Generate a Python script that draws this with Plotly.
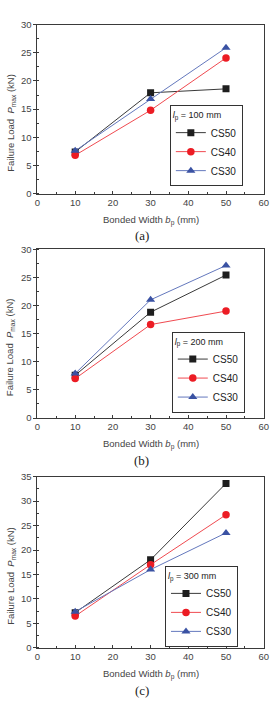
import plotly.graph_objects as go

# ---------------- data ----------------
bonded_width = [10, 30, 50]
series_names = ["CS50", "CS40", "CS30"]

a_cs50 = [7.4, 17.9, 18.6]
a_cs40 = [6.8, 14.8, 24.1]
a_cs30 = [7.6, 16.8, 25.9]

b_cs50 = [7.6, 18.8, 25.4]
b_cs40 = [7.0, 16.6, 19.0]
b_cs30 = [7.9, 21.0, 27.1]

c_cs50 = [7.2, 18.0, 33.6]
c_cs40 = [6.5, 17.0, 27.2]
c_cs30 = [7.4, 16.0, 23.5]

panel_labels = ["(a)", "(b)", "(c)"]
lp_values = ["100", "200", "300"]
y_max = [30, 30, 35]
x_ticks = [0, 10, 20, 30, 40, 50, 60]

panels = [
    [a_cs50, a_cs40, a_cs30],
    [b_cs50, b_cs40, b_cs30],
    [c_cs50, c_cs40, c_cs30],
]

# ---------------- styling ----------------
W, H = 276, 710
colors = ["#1e1e1e", "#ec1c24", "#3a52a3"]
line_colors = ["#3a3a3a", "#f04a50", "#6478bd"]
symbols = ["square", "circle", "triangle-up"]
msizes = [7, 7.5, 8]
FONT = "Liberation Sans, Arial, sans-serif"
AX = "#3a3a3a"

# pixel geometry of each panel: (top, bottom)
plot_px = [(19, 190.5), (247, 418.5), (478, 652)]
x_px = (35.5, 268.5)
legend_px = [(247, 101), (249, 331), (242, 569)]  # (right, top)


def px_x(p):
    return p / W


def px_y(p):
    return 1 - p / H


fig = go.Figure()
layout = dict(
    width=W, height=H, autosize=False,
    margin=dict(l=0, r=0, t=0, b=0),
    paper_bgcolor="white", plot_bgcolor="white",
    font=dict(family=FONT, size=9, color="#333"),
    annotations=[],
)

for i, series in enumerate(panels):
    n = i + 1
    xa = "x" if n == 1 else f"x{n}"
    ya = "y" if n == 1 else f"y{n}"
    leg = "legend" if n == 1 else f"legend{n}"
    for j, vals in enumerate(series):
        fig.add_trace(go.Scatter(
            x=bonded_width, y=vals, name=series_names[j],
            mode="lines+markers", xaxis=xa, yaxis=ya, legend=leg,
            line=dict(color=line_colors[j], width=1),
            marker=dict(symbol=symbols[j], size=msizes[j], color=colors[j],
                        line=dict(width=0)),
        ))
    top, bot = plot_px[i]
    ydom = [px_y(bot), px_y(top)]
    xdom = [px_x(x_px[0]), px_x(x_px[1])]
    xkey = "xaxis" if n == 1 else f"xaxis{n}"
    ykey = "yaxis" if n == 1 else f"yaxis{n}"
    layout[xkey] = dict(
        domain=xdom, anchor=ya, range=[0, 60], tickvals=x_ticks,
        ticks="inside", ticklen=3, tickwidth=1, tickcolor=AX,
        minor=dict(ticks="inside", ticklen=2, dtick=5, tick0=0, tickcolor=AX),
        showline=True, linecolor=AX, linewidth=1, mirror=True,
        showgrid=False, zeroline=False,
        tickfont=dict(family=FONT, size=9.5, color="#444"),
    )
    layout[ykey] = dict(
        domain=ydom, anchor=xa, range=[0, y_max[i]], dtick=5, tick0=0,
        ticks="outside", ticklen=3, tickwidth=1, tickcolor=AX,
        minor=dict(ticks="inside", ticklen=2, dtick=2.5, tick0=0, tickcolor=AX),
        showline=True, linecolor=AX, linewidth=1, mirror=True,
        showgrid=False, zeroline=False,
        tickfont=dict(family=FONT, size=9.5, color="#444"),
    )
    # overlay axes for inside ticks on top / right
    layout[f"xaxis{n + 3}"] = dict(
        overlaying=xa, side="top", anchor=ya, range=[0, 60], tickvals=x_ticks,
        ticks="inside", ticklen=3, tickcolor=AX, showticklabels=False,
        minor=dict(ticks="inside", ticklen=2, dtick=5, tick0=0, tickcolor=AX),
        showline=False, showgrid=False, zeroline=False,
    )
    layout[f"yaxis{n + 3}"] = dict(
        overlaying=ya, side="right", anchor=xa, range=[0, y_max[i]], dtick=5,
        tick0=0, ticks="inside", ticklen=3, tickcolor=AX, showticklabels=False,
        minor=dict(ticks="inside", ticklen=2, dtick=2.5, tick0=0, tickcolor=AX),
        showline=False, showgrid=False, zeroline=False,
    )
    # legend
    lr, lt = legend_px[i]
    layout[leg] = dict(
        x=px_x(lr), y=px_y(lt), xanchor="right", yanchor="top",
        bgcolor="white", bordercolor="#333", borderwidth=1,
        font=dict(family=FONT, size=10, color="#222"),
        title=dict(text=f"<i>l</i><sub>p</sub> = {lp_values[i]} mm",
                   font=dict(family=FONT, size=9, color="#222")),
        itemwidth=30, tracegroupgap=0,
    )
    # axis titles and panel label
    layout["annotations"] += [
        dict(text="Failure Load  <i>P</i><sub>max</sub> (kN)", textangle=-90,
             x=px_x(8), y=px_y((top + bot) / 2 + 14), xref="paper", yref="paper",
             xanchor="center", yanchor="middle", borderpad=0,
             showarrow=False, font=dict(family=FONT, size=9.5, color="#444")),
        dict(text="Bonded Width <i>b</i><sub>p</sub> (mm)",
             x=px_x((x_px[0] + x_px[1]) / 2), y=px_y(bot + 27), xref="paper",
             yref="paper", xanchor="center", yanchor="middle", showarrow=False,
             borderpad=0, font=dict(family=FONT, size=9.5, color="#444")),
        dict(text=panel_labels[i], x=px_x(143), y=px_y(bot + 43), xref="paper",
             yref="paper", xanchor="center", yanchor="middle", showarrow=False,
             borderpad=0,
             font=dict(family="Liberation Serif, Times New Roman, serif",
                       size=13, color="#222")),
    ]

fig.update_layout(**layout)
fig.write_html("out.html")
